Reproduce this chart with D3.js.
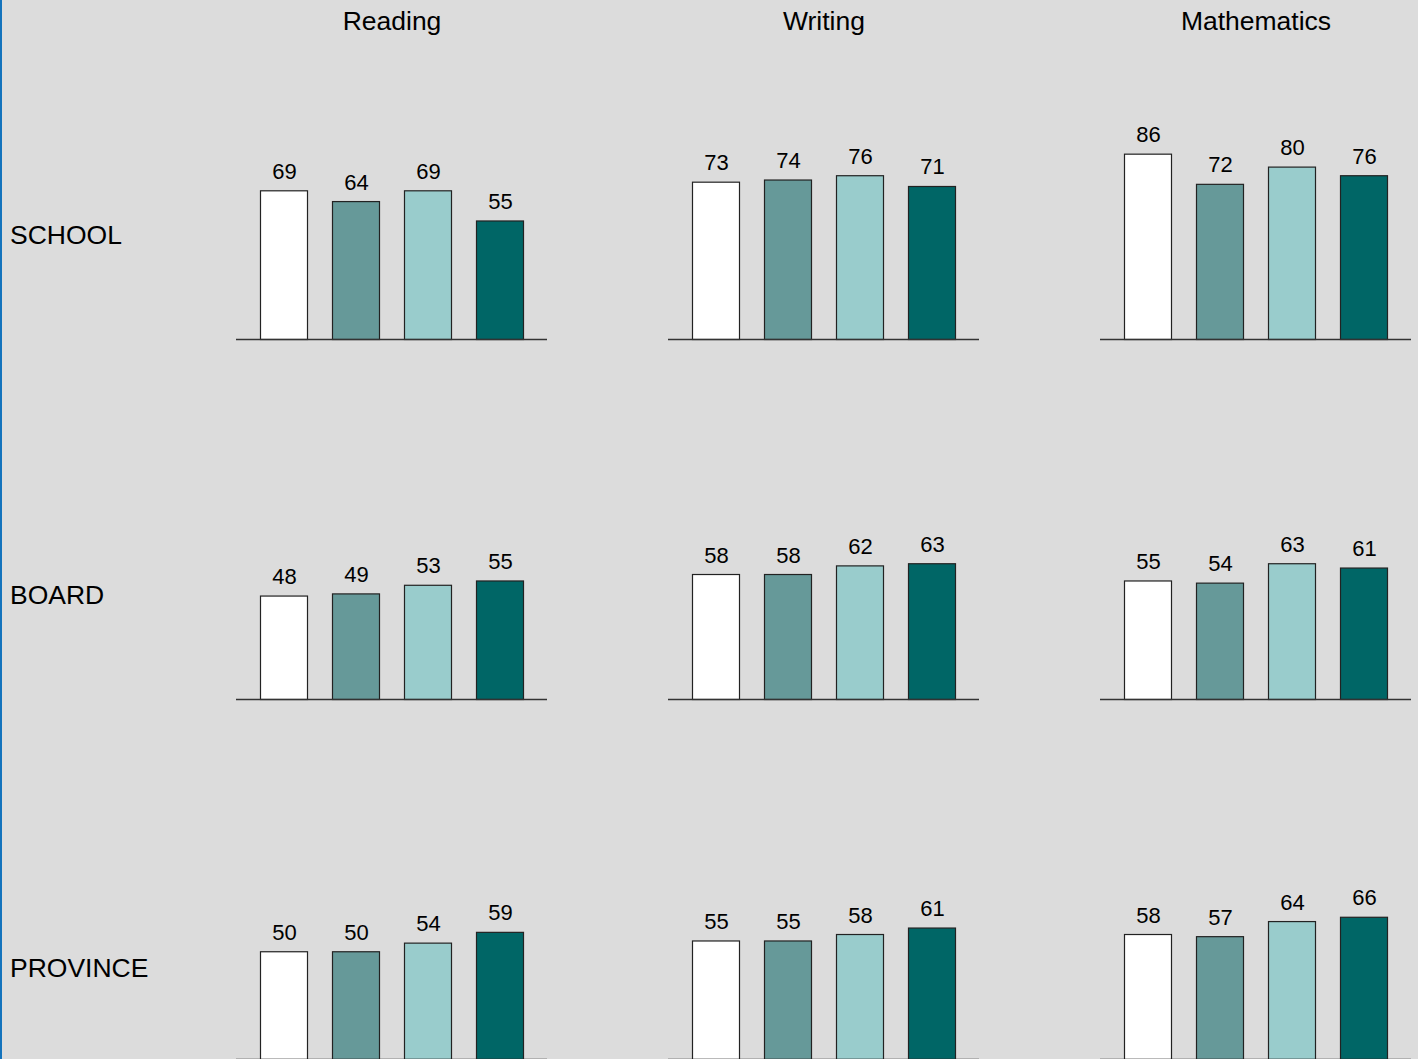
<!DOCTYPE html>
<html>
<head>
<meta charset="utf-8">
<script src="https://cdn.jsdelivr.net/npm/d3@7"></script>
<style>
  html, body { margin: 0; padding: 0; background: #DCDCDC; }
  svg { display: block; }
  text { font-family: "Liberation Sans", Arial, sans-serif; fill: #000; }
</style>
</head>
<body>
<script>
// ---- Data ----
const subjects = ["Reading", "Writing", "Mathematics"];
const levels = ["SCHOOL", "BOARD", "PROVINCE"];
const seriesKeys = ["s1", "s2", "s3", "s4"];
const seriesColors = ["#FFFFFF", "#669999", "#99CCCC", "#006666"];

// values[level][subject] -> 4 values
const schoolValues = [[69, 64, 69, 55], [73, 74, 76, 71], [86, 72, 80, 76]];
const boardValues = [[48, 49, 53, 55], [58, 58, 62, 63], [55, 54, 63, 61]];
const provinceValues = [[50, 50, 54, 59], [55, 55, 58, 61], [58, 57, 64, 66]];
const allValues = [schoolValues, boardValues, provinceValues];

// ---- Layout ----
const W = 1418, H = 1059;
const colLeft = [236, 668, 1100];     // axis line start per column
const panelWidth = 311;
const rowBase = [339.5, 699.5, 1059.5]; // baseline per row
const rowLabelY = [244.3, 604.3, 977.3];
const pxPerUnit = 2.155;

const svg = d3.select("body").append("svg")
  .attr("width", W).attr("height", H);

svg.append("rect").attr("width", W).attr("height", H).attr("fill", "#DCDCDC");
svg.append("line").attr("x1", 1).attr("x2", 1).attr("y1", 0).attr("y2", H)
  .attr("stroke", "#1473BC").attr("stroke-width", 2);

const y = d3.scaleLinear().domain([0, 100]).range([0, 100 * pxPerUnit]);

// column titles
subjects.forEach((s, ci) => {
  svg.append("text")
    .attr("x", colLeft[ci] + panelWidth / 2 + 0.5)
    .attr("y", 30)
    .attr("text-anchor", "middle")
    .attr("font-size", 26.5)
    .text(s);
});

// row labels
levels.forEach((l, ri) => {
  svg.append("text")
    .attr("x", 10)
    .attr("y", rowLabelY[ri])
    .attr("font-size", 26.5)
    .text(l);
});

// panels
levels.forEach((l, ri) => {
  subjects.forEach((s, ci) => {
    const vals = allValues[ri][ci];
    const x = d3.scaleBand()
      .domain(seriesKeys)
      .range([colLeft[ci], colLeft[ci] + panelWidth])
      .paddingInner(25 / 72)
      .paddingOuter(0.333);
    const g = svg.append("g");
    const base = rowBase[ri];

    g.selectAll("rect.bar").data(vals).join("rect")
      .attr("class", "bar")
      .attr("x", (d, i) => Math.round(x(seriesKeys[i])) + 0.5)
      .attr("y", d => base - y(d))
      .attr("width", Math.round(x.bandwidth()))
      .attr("height", d => y(d))
      .attr("fill", (d, i) => seriesColors[i])
      .attr("stroke", "#222")
      .attr("stroke-width", 1.2);

    g.selectAll("text.val").data(vals).join("text")
      .attr("class", "val")
      .attr("x", (d, i) => x(seriesKeys[i]) + x.bandwidth() / 2 + 1)
      .attr("y", d => base - y(d) - 12)
      .attr("text-anchor", "middle")
      .attr("font-size", 22)
      .text(d => d);

    g.append("line")
      .attr("x1", colLeft[ci]).attr("x2", colLeft[ci] + panelWidth)
      .attr("y1", base).attr("y2", base)
      .attr("stroke", "#333").attr("stroke-width", 1.3);
  });
});
</script>
</body>
</html>
